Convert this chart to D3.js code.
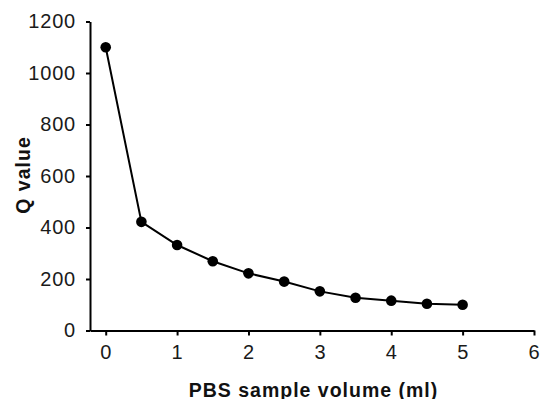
<!DOCTYPE html>
<html>
<head>
<meta charset="utf-8">
<script src="https://cdn.jsdelivr.net/npm/d3@7"></script>
<style>
  body { margin: 0; background: #fff; }
  svg { display: block; font-family: "Liberation Sans", Arial, sans-serif; }
</style>
</head>
<body>
<svg id="chart"></svg>
<script>
// chart data
var volumes = [0, 0.5, 1, 1.5, 2, 2.5, 3, 3.5, 4, 4.5, 5];
var qValues = [1100, 422, 332, 269, 222, 190, 152, 127, 116, 104, 100];
var xTicks = [0, 1, 2, 3, 4, 5, 6];
var yTicks = [0, 200, 400, 600, 800, 1000, 1200];

// SVG size params
var width = 541;
var height = 399;
var margin = {top: 21.5, right: 7, bottom: 68.5, left: 90};

var svg = d3.select("#chart")
    .attr("width", width)
    .attr("height", height);

// Scales
var x = d3.scaleLinear()
    .domain([-0.22, 6])
    .range([margin.left, width - margin.right]);

var y = d3.scaleLinear()
    .domain([0, 1200])
    .range([height - margin.bottom, margin.top]);

// X axis
var xAxis = svg.append("g")
    .attr("transform", "translate(0," + y(0) + ")")
    .call(d3.axisBottom(x).tickValues(xTicks).tickFormat(d3.format("d"))
      .tickSize(5).tickPadding(9).tickSizeOuter(0));

// Y axis
var yAxis = svg.append("g")
    .attr("transform", "translate(" + x(-0.22) + ",0)")
    .call(d3.axisLeft(y).tickValues(yTicks).tickFormat(d3.format("d"))
      .tickSize(4).tickPadding(10).tickSizeOuter(0));

[xAxis, yAxis].forEach(function(ax) {
  ax.select(".domain").attr("stroke", "#000").attr("stroke-width", 2);
  ax.selectAll(".tick line").attr("stroke", "#000").attr("stroke-width", 2);
  ax.selectAll(".tick text")
    .attr("fill", "#1a1a1a")
    .style("font-size", "20px")
    .style("letter-spacing", "0.8px")
    .style("font-family", "'Liberation Sans', Arial, sans-serif");
});

// Line
var line = d3.line()
    .x(function(d, i) { return x(volumes[i]); })
    .y(function(d) { return y(d); });

svg.append("path")
    .datum(qValues)
    .attr("fill", "none")
    .attr("stroke", "#000")
    .attr("stroke-width", 2)
    .attr("d", line);

// Points
svg.selectAll(".dot")
    .data(qValues)
  .enter().append("circle")
    .attr("class", "dot")
    .attr("cx", function(d, i) { return x(volumes[i]); })
    .attr("cy", function(d) { return y(d); })
    .attr("r", 5.3)
    .attr("fill", "#000");

// Axis titles
svg.append("text")
    .attr("x", 313.5)
    .attr("y", 396.5)
    .attr("text-anchor", "middle")
    .style("font-size", "19.5px")
    .style("font-weight", "bold")
    .style("letter-spacing", "1px")
    .attr("fill", "#111")
    .text("PBS sample volume (ml)");

svg.append("text")
    .attr("transform", "translate(29.5,175) rotate(-90)")
    .attr("text-anchor", "middle")
    .style("font-size", "19.5px")
    .style("font-weight", "bold")
    .style("letter-spacing", "1px")
    .attr("fill", "#111")
    .text("Q value");
</script>
</body>
</html>
